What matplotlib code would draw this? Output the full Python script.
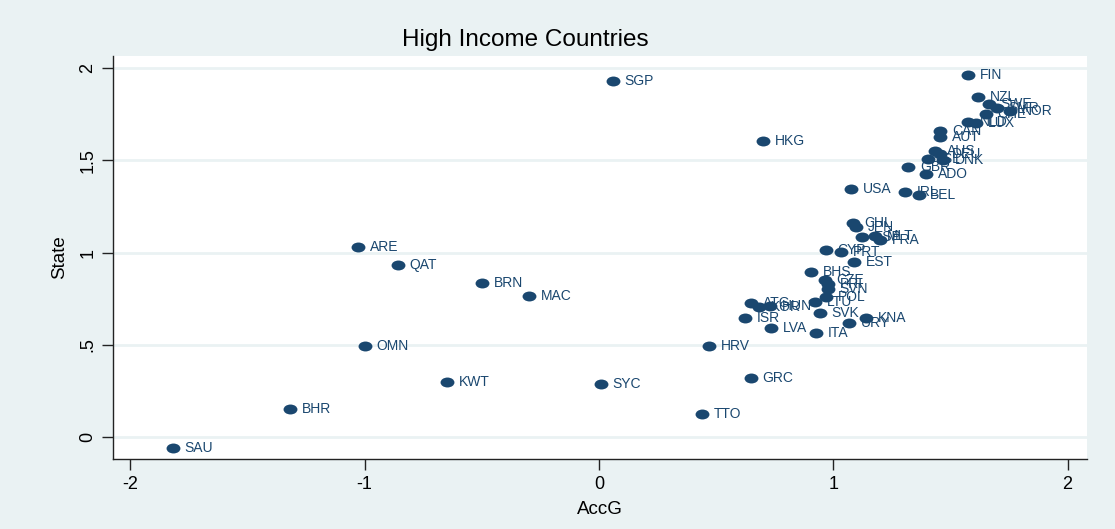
import matplotlib
matplotlib.use("Agg")
import matplotlib.pyplot as plt
from matplotlib.path import Path
from matplotlib.transforms import Affine2D

# Country codes and their (AccG, State) values
codes = [
    "SAU", "BHR", "OMN", "ARE", "QAT", "KWT", "BRN", "MAC", "SYC", "SGP",
    "TTO", "HRV", "GRC", "HKG",
    "FIN", "NZL", "SWE", "SMR", "CHE", "NOR", "NLD", "LUX", "CAN", "AUT",
    "AUS", "DEU", "ISL", "DNK", "GBR", "ADO", "USA", "IRL", "BEL",
    "CHL", "JPN", "ESP", "MLT", "FRA", "CYP", "PRT", "EST", "BHS", "CZE",
    "PRI", "SVN", "POL", "LTU", "SVK", "KNA", "URY", "ITA", "LVA", "ISR",
    "ATG", "KOR", "HUN",
]
accg = [
    -1.818, -1.320, -1.000, -1.029, -0.858, -0.649, -0.499, -0.300, 0.007, 0.060,
    0.440, 0.468, 0.647, 0.700,
    1.574, 1.618, 1.663, 1.697, 1.650, 1.753, 1.575, 1.611, 1.457, 1.457,
    1.433, 1.454, 1.403, 1.468, 1.319, 1.397, 1.077, 1.308, 1.364,
    1.084, 1.096, 1.124, 1.177, 1.198, 0.968, 1.035, 1.087, 0.907, 0.963,
    0.976, 0.977, 0.971, 0.921, 0.942, 1.138, 1.067, 0.928, 0.736, 0.622,
    0.650, 0.682, 0.729,
]
state = [
    -0.061, 0.150, 0.495, 1.028, 0.932, 0.296, 0.833, 0.766, 0.287, 1.931,
    0.125, 0.493, 0.321, 1.606,
    1.962, 1.844, 1.805, 1.783, 1.751, 1.769, 1.709, 1.700, 1.660, 1.628,
    1.552, 1.534, 1.505, 1.501, 1.462, 1.424, 1.344, 1.330, 1.312,
    1.162, 1.137, 1.082, 1.089, 1.068, 1.014, 1.004, 0.947, 0.896, 0.851,
    0.829, 0.801, 0.760, 0.732, 0.674, 0.643, 0.620, 0.566, 0.589, 0.643,
    0.725, 0.705, 0.710,
]

x_ticks = [-2, -1, 0, 1, 2]
y_ticks = [0, 0.5, 1, 1.5, 2]
y_tick_labels = ["0", ".5", "1", "1.5", "2"]

BG = "#EAF2F3"
NAVY = "#1A476F"

plt.rcParams["font.family"] = ["Liberation Sans", "DejaVu Sans"]

fig = plt.figure(figsize=(11.15, 5.29), dpi=100)
fig.patch.set_facecolor(BG)
ax = fig.add_axes([0.1013, 0.1323, 0.8736, 0.7618])
ax.set_facecolor("white")

# Stata-style slightly flattened circle marker
ellipse = Path.unit_circle().transformed(Affine2D().scale(1.4, 1.0))
ax.scatter(accg, state, marker=ellipse, s=100, color=NAVY, linewidths=0, zorder=3)
for code, x, y in zip(codes, accg, state):
    ax.annotate(code, (x, y), xytext=(8.5, 0), textcoords="offset points",
                va="center", ha="left", fontsize=10, color=NAVY, zorder=4)

ax.set_xlim(-2.074, 2.083)
ax.set_ylim(-0.119, 2.065)
ax.set_xticks(x_ticks)
ax.set_xticklabels([str(t) for t in x_ticks])
ax.set_yticks(y_ticks)
ax.set_yticklabels(y_tick_labels, rotation=90, va="center")

ax.yaxis.grid(True, color=BG, linewidth=2)
ax.set_axisbelow(True)
for side in ("top", "right"):
    ax.spines[side].set_visible(False)
for side in ("left", "bottom"):
    ax.spines[side].set_color("#222222")
    ax.spines[side].set_linewidth(1)
ax.tick_params(length=8, width=1, color="#222222", labelsize=13, pad=4)

ax.set_xlabel("AccG", fontsize=13.5, labelpad=6)
ax.set_ylabel("State", fontsize=13.5, labelpad=8)
fig.text(525 / 1115, 1 - 40 / 529, "High Income Countries", fontsize=17.5,
         ha="center", va="center")

fig.savefig("out.png", facecolor=BG)
